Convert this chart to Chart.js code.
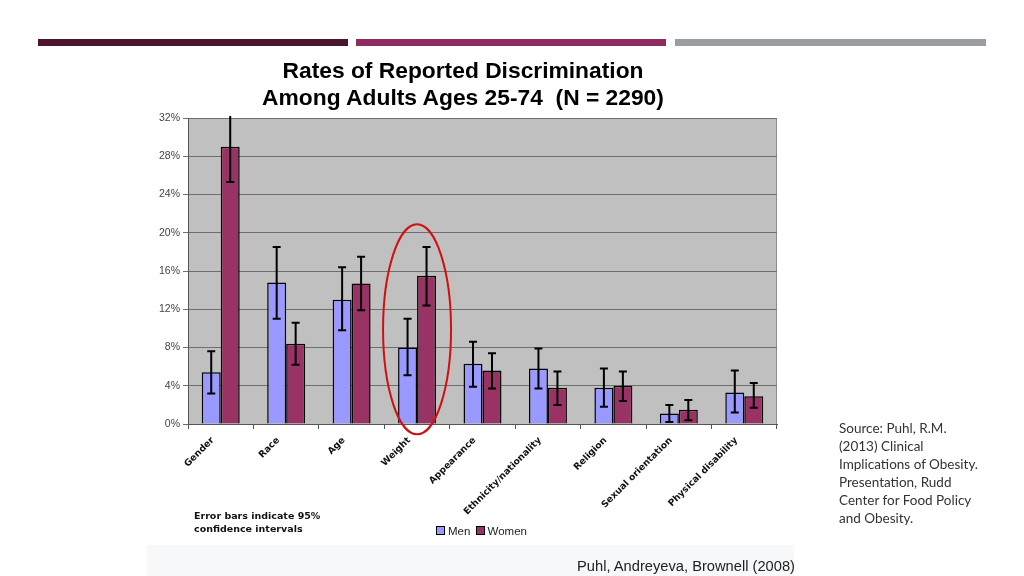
<!DOCTYPE html>
<html lang="en">
<head>
    <meta charset="UTF-8">
    <title>Rates of Reported Discrimination</title>
    <script src="https://cdn.jsdelivr.net/npm/chart.js"></script>
    <style>
        body { margin: 0; width: 1024px; height: 576px; background: #fff; position: relative; overflow: hidden; font-family: "Liberation Sans", Arial, sans-serif; }
        .band { position: absolute; top: 39px; height: 7px; }
        #chartBox { position: absolute; left: 0; top: 0; width: 1024px; height: 576px; }
        .title { position: absolute; left: 163px; width: 600px; text-align: center; font-weight: bold; font-size: 22.8px; color: #000; }
        .note { position: absolute; left: 194px; top: 509px; font-family: "DejaVu Sans", Verdana, sans-serif; font-weight: bold; font-size: 9.5px; line-height: 13px; color: #111; }
        .legend { position: absolute; left: 436px; top: 525px; font-size: 11.5px; color: #222; }
        .legend span.sw { display: inline-block; width: 7px; height: 7px; border: 1px solid #000; margin-right: 3px; vertical-align: 0px; }
        .source { position: absolute; left: 839px; top: 419px; font-family: Lato, "Open Sans", sans-serif; font-size: 13.5px; line-height: 18px; color: #333; }
        .credit { position: absolute; left: 577px; top: 558px; font-size: 14.7px; color: #222; }
        .strip { position: absolute; left: 147px; top: 545px; width: 647px; height: 31px; background: #f7f8fa; }
    </style>
</head>
<body>
    <div class="band" style="left:38px;width:310px;background:#4b1530"></div>
    <div class="band" style="left:356px;width:310px;background:#8e2c62"></div>
    <div class="band" style="left:675px;width:311px;background:#9a9ea2"></div>
    <div class="strip"></div>

    <canvas id="chartBox" width="1024" height="576"></canvas>

    <div class="title" style="top:57px">Rates of Reported Discrimination</div>
    <div class="title" style="top:84px">Among Adults Ages 25-74&nbsp;&nbsp;(N = 2290)</div>
    <div class="note">Error bars indicate 95%<br>confidence intervals</div>
    <div class="legend"><span class="sw" style="background:#9999ff"></span>Men <span class="sw" style="background:#993366;margin-left:2px"></span>Women</div>
    <div class="source">Source: Puhl, R.M.<br>(2013) Clinical<br>Implications of Obesity.<br>Presentation, Rudd<br>Center for Food Policy<br>and Obesity.</div>
    <div class="credit">Puhl, Andreyeva, Brownell (2008)</div>

    <script>
        const categories = ['Gender', 'Race', 'Age', 'Weight', 'Appearance', 'Ethnicity/nationality', 'Religion', 'Sexual orientation', 'Physical disability'];
        const men = [5.4, 14.8, 13.0, 8.0, 6.3, 5.8, 3.8, 1.1, 3.3];
        const menLow = [3.2, 11.0, 9.8, 5.1, 3.9, 3.7, 1.8, 0.2, 1.2];
        const menHigh = [7.6, 18.5, 16.4, 11.0, 8.6, 7.9, 5.8, 2.0, 5.6];
        const women = [29.0, 8.4, 14.7, 15.5, 5.6, 3.8, 4.0, 1.5, 2.9];
        const womenLow = [25.3, 6.2, 11.9, 12.4, 3.7, 2.0, 2.4, 0.4, 1.7];
        const womenHigh = [32.7, 10.6, 17.5, 18.5, 7.4, 5.5, 5.5, 2.5, 4.3];
        const yTicks = [0, 4, 8, 12, 16, 20, 24, 28, 32];
        const highlighted = 'Weight';

        // grey plot background
        const plotBackground = {
            id: 'plotBackground',
            beforeDraw(chart) {
                const a = chart.chartArea, ctx = chart.ctx;
                ctx.save();
                ctx.fillStyle = '#c0c0c0';
                ctx.fillRect(a.left, a.top, a.right - a.left, a.bottom - a.top);
                ctx.strokeStyle = '#8c8c8c';
                ctx.lineWidth = 1;
                ctx.strokeRect(a.left + 0.5, a.top + 0.5, a.right - a.left - 1, a.bottom - a.top);
                ctx.restore();
            }
        };

        // confidence interval whiskers
        const errorBars = {
            id: 'errorBars',
            afterDatasetsDraw(chart) {
                const ctx = chart.ctx, y = chart.scales.y;
                const ranges = [[menLow, menHigh], [womenLow, womenHigh]];
                ctx.save();
                ctx.beginPath();
                ctx.rect(0, chart.chartArea.top - 2, chart.width, chart.height);
                ctx.clip();
                ctx.strokeStyle = '#000';
                ctx.lineWidth = 2;
                ranges.forEach((r, di) => {
                    chart.getDatasetMeta(di).data.forEach((bar, i) => {
                        const lo = y.getPixelForValue(r[0][i]);
                        const hi = y.getPixelForValue(r[1][i]);
                        ctx.beginPath();
                        ctx.moveTo(bar.x, lo); ctx.lineTo(bar.x, hi);
                        ctx.moveTo(bar.x - 4, lo); ctx.lineTo(bar.x + 4, lo);
                        ctx.moveTo(bar.x - 4, hi); ctx.lineTo(bar.x + 4, hi);
                        ctx.stroke();
                    });
                });
                ctx.restore();
            }
        };

        // red ring around the weight pair
        const highlightRing = {
            id: 'highlightRing',
            afterDraw(chart) {
                const ctx = chart.ctx;
                const cx = chart.scales.x.getPixelForValue(categories.indexOf(highlighted));
                const cy = chart.scales.y.getPixelForValue(9.9);
                ctx.save();
                ctx.strokeStyle = '#d01010';
                ctx.lineWidth = 2;
                ctx.beginPath();
                ctx.ellipse(cx, cy, 34, 105, 0, 0, Math.PI * 2);
                ctx.stroke();
                ctx.restore();
            }
        };

        new Chart(document.getElementById('chartBox'), {
            type: 'bar',
            data: {
                labels: categories,
                datasets: [{
                    label: 'Men',
                    data: men,
                    backgroundColor: '#9999ff',
                    borderColor: '#000',
                    borderWidth: 1.5,
                    categoryPercentage: 0.58,
                    barPercentage: 1.0
                }, {
                    label: 'Women',
                    data: women,
                    backgroundColor: '#993366',
                    borderColor: '#000',
                    borderWidth: 1.5,
                    categoryPercentage: 0.58,
                    barPercentage: 1.0
                }]
            },
            options: {
                responsive: false,
                animation: false,
                layout: { padding: { left: 146, top: 118, right: 247, bottom: 52 } },
                plugins: { legend: { display: false }, tooltip: { enabled: false } },
                scales: {
                    x: {
                        afterFit(scale) { scale.height = 100; },
                        grid: { offset: true, drawOnChartArea: false, drawTicks: true, tickLength: 5, color: '#555' },
                        border: { color: '#555' },
                        ticks: {
                            autoSkip: false,
                            maxRotation: 45,
                            minRotation: 45,
                            padding: 6,
                            labelOffset: -8,
                            color: '#111',
                            font: { family: 'DejaVu Sans', weight: 'bold', size: 9.2 }
                        }
                    },
                    y: {
                        min: 0,
                        max: 32,
                        afterFit(scale) { scale.width = 42; },
                        afterBuildTicks(scale) { scale.ticks = yTicks.map(v => ({ value: v })); },
                        grid: { color: '#6e6e6e', lineWidth: 1, tickLength: 5 },
                        border: { color: '#555' },
                        ticks: {
                            padding: 3,
                            color: '#444',
                            font: { family: 'Liberation Sans', size: 10.5 },
                            callback: v => v + '%'
                        }
                    }
                }
            },
            plugins: [plotBackground, errorBars, highlightRing]
        });
    </script>
</body>
</html>
